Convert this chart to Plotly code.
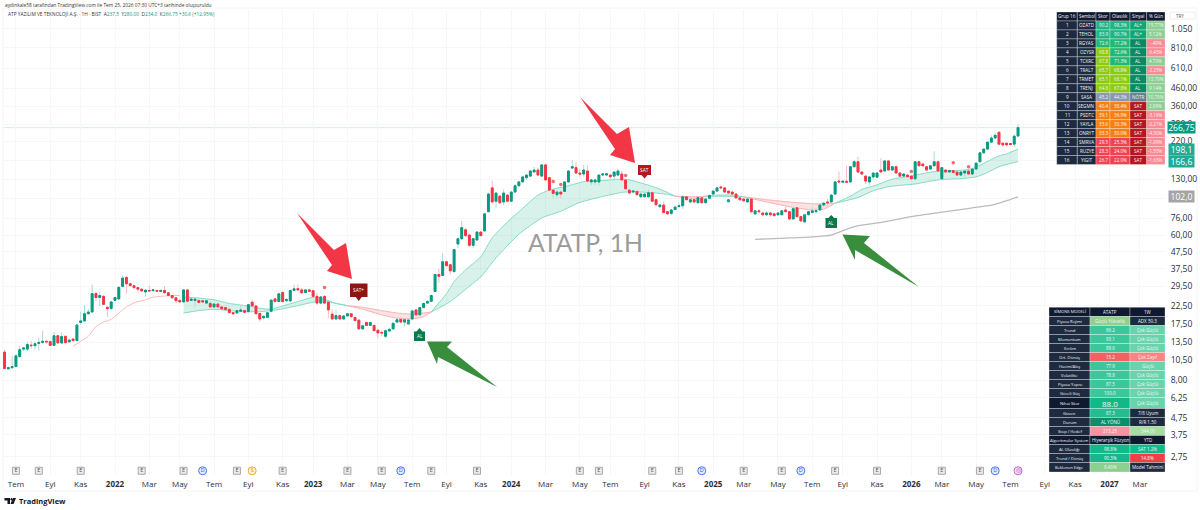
import math
import pandas as pd
import plotly.graph_objects as go

# ---------- price data (weekly bars) ----------
OPEN = [11.8,9.35,9.5,9.65,11.1,12.3,12.3,13,12.9,13.3,
13.5,13.7,13.65,12.95,14.8,13.4,14.7,13.6,14.15,13.85,
17.8,18.2,20.1,20.6,26.6,25.2,25.6,22,21.6,24.2,
24.7,29.4,33.3,30.5,29.7,28.9,28.3,27.2,27.8,27.7,
27.8,27.4,27.8,26.9,25.9,25.1,24.2,23.7,28,24.2,
24.2,24.2,24.1,23.3,23.2,22.1,23,22.1,21.9,21.4,
20.4,20.3,20.8,21,20.7,23.6,22.4,20.2,19,19.1,
20.8,24.7,23.8,27,24.1,24,27.8,28.5,28,27,
28,27.7,25.6,23.3,25.6,23.6,20,18.7,19.6,18.7,
19.5,20.1,19.1,18.4,16.3,17.8,17.1,17.1,16,15.5,
14.7,15.8,16.3,17.9,18.6,17.9,18.1,18.7,21.2,19.8,
21.9,23.3,23.9,27.4,34.7,34.2,41.4,39.7,36.1,53,
57,64.5,60,52,56,62.5,63.5,83,115.5,96,
103,95,104.5,96,109,119,125.5,133,136,144,
148,136,159,133,112,105,109,110,125.5,152,
153,142,140,146,125.5,125.5,125.5,138,138,138,
136,138,140,129,112,109,110,102,102,102,
108,98,89,91,83,81,85.5,89,90,102,
95,98,94,100.5,94,100,106,110.5,117,115.5,
110.5,109,106,100.5,99,95,99,80.5,84,81.5,
79.5,81.5,80.5,79.5,79.5,85,83,75,87.5,77.5,
72,79.5,82,83,85,91,95,95,106,127,
125,126.5,125.5,155,166,144,136,125.5,134.5,134,
148,146,168,148,155,142,136,138,136,131,
166,161,155,150,157,166,131,148,144,147,
144,138,142,146,140,150,166,188,198,218,
231,250,215,215,214,212,237.5]
HIGH = [12.2,9.6,11.2,11.4,12.8,12.7,13.6,13.8,13.7,14.4,
15.9,14,13.8,15.6,15,15.5,14.8,14.1,14.3,17.3,
20.7,22.7,21.5,30.1,27.3,27.2,26.2,22.3,24,25.4,
29.3,34.2,34,31,30,29.1,28.5,28.2,29.7,28.2,
28,28,29.5,27,26,25.3,24.4,28.2,28.2,25,
25.4,24.4,24.3,24.3,23.9,23.2,23.2,22.3,22,21.5,
20.5,21.1,22.7,21.2,23,24.4,22.6,20.4,19.6,20.6,
24.5,25,26.8,27.5,25,28,30.1,30.3,28.7,28.2,
28.3,28,26.9,25.8,25.9,24,21.4,21.4,19.8,19.7,
20.2,20.3,19.3,18.6,17.2,18,18,17.2,16.1,16,
16.1,16.4,17.8,19,18.9,18.7,18.5,21.2,21.4,22,
23.4,24.3,26.2,35,37.5,46.9,42,40,49.5,58,
73,66,60.5,57.5,63.5,63.5,81.5,108,127.5,109,
105,113,106,110,121,127,136,139,147,155,
153,160,160,134,113,111,110,127,148,170,
165,150,159,158,131,131,140,142,142,139,
145,150,146,131,114,111,111,107,107,112,
109,99,92,96,84,86,90,94,104.5,103,
99,99,102,102,101,105,111,117,119,116,
111,110,107,101,100,100,100,85,86,82,
84,82,81,82,85,89,84,87,88.5,78,
80,84,88,87,92,94,99,106,127,145,
129,157,156,170,178,146,138,136,143,144,
175,170,170,157,156,143,142,139,137,167,
168,162,157,158,192,168,155,150,149,148,
145,145,147,147,151,164,190,200,220,240,
250,255,216,216,215,238,280]
LOW = [9.3,9.3,9.4,9.6,10.9,12,12,12.4,12.2,12,
13.2,13.3,12.9,12.9,13.3,13.2,13.3,13.5,13.7,13.8,
17.2,18,19.8,20.5,24,22.4,22.7,19.2,21.3,24,
24.5,29,26.6,29.3,28.5,27,27.3,25.4,27.4,27.5,
27.3,27.2,26.7,25.7,24.9,23.3,23.5,23.5,23.8,24,
22.1,23.3,23.5,23.2,22,22,22,21.3,21,20.3,
19.8,20.1,20.6,20.4,20.6,22.2,20,18,18.6,19,
20.5,23.6,23.6,23.6,23.7,23.8,27.6,27.8,26.7,26.9,
27.3,25.4,22.7,23,23,18.9,18.5,18.5,18.5,18.5,
19.4,19.2,18.1,16.1,16.1,17,17,15.7,14.2,14.7,
14.3,15.7,16.2,17.7,17.7,16.8,17.7,18.4,19.6,19.6,
21.7,23,23.7,27.2,31,34,39,34.6,35.8,50,
56,58.5,51,50,55.5,59,63,82,94,87.5,
92,91,95,95,108,118,125,129.5,135,143,
137,135,128,111,100.5,101,100,109,124,150,
141,135,135,126,120,120,120,137,137,129,
128,137,127,113,106,108,104.5,101,101.5,101,
95,90,87,81,79,79.5,85,88,86,97,
93.5,93,93,93,93,99,105,110,114,108.5,
107,105,100,96,95,94,81,79.5,81,78,
78,77,78,78.5,79,82,74,74.5,76.5,72,
71,79,81,81,84,89.5,90,94,105,124,
124,124,124,154,142,138,122,120,130,133,
143,145,147,147,141,135,134,134,130,130,
156,156,147,149,156,145,130,143,143,141,
137,137,134,139,139,149,165,186,196,216,
229,210,205,206,208,203,234]
CLOSE = [9.4,9.5,9.65,11.2,12.2,12.5,13.1,12.9,13.25,13.5,
13.7,13.6,12.95,14.8,13.4,14.65,13.45,13.95,13.85,17.2,
18.2,20.1,20.6,26.6,25.2,25.9,22.9,21.6,23.7,25.2,
29,33,30.5,29.7,28.9,28.3,27.6,27.9,27.6,28,
27.5,27.8,26.9,25.9,25.1,24.1,23.7,28,23.9,24.65,
24.6,23.5,23.7,24.1,22.1,23,22.1,21.5,21.3,20.4,
20.1,21,21.2,20.5,22.8,22.4,20.1,18.7,19.4,20.4,
24.3,23.8,26.5,23.8,24.5,27.8,28.4,28,26.9,28,
27.5,25.6,23.3,25.4,23.3,21.2,18.7,19.6,18.7,19.5,
20.1,19.3,18.3,16.3,17,17.1,17.8,15.9,15.4,15.4,
15.9,16.2,17.6,18.5,17.9,18.5,18.4,20.9,19.8,21.9,
23.2,23.8,25.9,34.7,33.8,41.4,39.2,36.5,49,57,
66.5,59.5,52,57,62.5,59.5,80.5,106,95,107.5,
94,107.5,96,109,119,125.5,134.5,138,146,148,
138,159,129,112,107,109,106,125.5,146,155,
142,140,148,127,129,129,138,140,140.5,135,
144,146,129,114,107.5,110.5,105,106,106,108,
96,91.5,91,82,80.5,85,88.5,90,102,98,
98,95,101,94,99,104,110.5,115.5,115.5,109,
107.5,106,100.5,98,96.5,99,83,84,83,79.5,
81.5,79.5,78.5,81.5,84,83,75,86.5,77.5,73,
79.5,83,84,84,91,93.5,94,104.5,125.5,125.5,
126.5,125,155,166,144,140,127,134.5,142,142,
144,168,148,155,142,136,140,135,131,166,
157,157,148,157,166,146,153,144,147,143,
138,144,146,140,150,163,188,198,218,231,
240,212,210,210,211,237,266.75]
FIRST_WEEK = "2021-06-14"

# ---------- indicator lines (week number, price) ----------
PINK_WK = [18,20,22,24,26,28,30,32,34,37,39,42,44,46]
PINK = [12.8,13.7,14.7,16.8,17.9,18.6,20.3,22.1,23.4,24.4,25.3,25.7,25.9,25.9]

M1_UP_WK = [47,51,55,59,62,64,67,70,73,77,81,84,87,90]
M1_UP = [25.4,25,24.4,23.2,22.7,22.4,21.7,21.4,22.4,23.8,25.3,24.6,23.2,22.5]
M1_LO_WK = [47,51,55,59,62,67,70,73,77,81,84,87,90]
M1_LO = [20.3,21,21.4,21,20.7,20.7,21,21.5,22.5,23.6,24,23.2,22.5]

R1_UP_WK = [90,94,99,103,107,112]
R1_UP = [22.5,22,21,20.3,20,20.6]
R1_LO_WK = [90,94,99,103,107,110,112]
R1_LO = [22.5,21.4,19.8,18.9,18.7,19.3,20.6]

M2_UP_WK = [112,116,118,121,125,128,132,136,140,143,148,152,157,162,164,170,174,176]
M2_UP = [20.6,26.6,31.4,37,44.3,57.6,72,87,104.5,112,119,126,128,130.5,129,118,108.5,103]
M2_LO_WK = [112,117,121,125,129,135,141,146,151,157,162,165,170,174,176]
M2_LO = [20.6,23.8,28.2,33.5,43.7,60.7,76,83.5,94.5,102.5,108.5,109.5,108,105.5,103]

R2_UP_WK = [176,181,184]
R2_UP = [103,102,103]
R2_LO_WK = [176,179,181,183,184]
R2_LO = [103,100.5,99.5,100,103]

M3_UP_WK = [184,187,191,194]
M3_UP = [103,104.5,104.5,102]
M3_LO_WK = [184,187,191,194]
M3_LO = [103,102.8,102.5,102]

R3_UP_WK = [194,200,207,213,218]
R3_UP = [102,98,94.5,92.5,93.4]
R3_LO_WK = [194,200,207,212,215,218]
R3_LO = [102,95,88,85,86,93.4]

M4_UP_WK = [218,222,225,229,233,237,244,252,255,258,261,263,266]
M4_UP = [93.4,103,113,120.5,130.5,135,144.8,148,153.5,167,180,185,198.1]
M4_LO_WK = [218,224,228,232,239,245,252,255,258,261,266]
M4_LO = [93.4,101,111,117.5,122,129,132,134.5,143,155,166.6]

GRAY_WK = [197,205,212,217,223,230,238,247,254,260,266]
GRAY = [56.5,57.5,58.5,60,67.5,71.5,77.5,83,87.5,92,102]

DOT_RED_WK = [84,144,146,163,238,249,253]
DOT_RED = [28.9,126,121,137,145,164,155]
DOT_GREEN_WK = [106,190]
DOT_GREEN = [17.7,96.5]

# ---------- axis ticks ----------
X_TICK_WK = [3,12,20,29,38,46,55,64,73,81,90,98,107,116,125,133,142,151,159,168,177,186,194,203,212,220,229,238,246,255,264,273,281,290,298]
X_TICK_TX = ["Tem","Eyl","Kas","<b>2022</b>","Mar","May","Tem","Eyl","Kas","<b>2023</b>","Mar","May","Tem","Eyl","Kas","<b>2024</b>","Mar","May","Tem","Eyl","Kas","<b>2025</b>","Mar","May","Tem","Eyl","Kas","<b>2026</b>","Mar","May","Tem","Eyl","Kas","<b>2027</b>","Mar"]
Y_TICK_V = [1050,810,610,460,360,280,220,170,130,100,76,60,47.5,37.5,29.5,22.5,17.5,13.5,10.5,8,6.25,4.75,3.75,2.75]
Y_TICK_TX = ["1.050","810,0","610,0","460,00","360,00","280,0","220,0","","130,00","","76,00","60,00","47,50","37,50","29,50","22,50","17,50","13,50","10,50","8,00","6,25","4,75","3,75","2,75"]

# ---------- time-axis event icons ----------
E_WK = [3,9,20,36,47,61,73,90,99,112,124,151,156,170,177,194,204,218,229,246,256]
DIV_WK = [52,104,183,209,260]
SPLIT_WK = [65]
LAST_WK = [266]

# ---------- tables ----------
T1_HEAD = ["Grup 16","Sembol","Skor","Olasılık","Sinyal","% Gün"]
T1_RANK = [str(i) for i in range(1,17)]
T1_SYM = ["OZATD","TEHOL","RGYAS","OZYSR","TCKRC","TRALT","TRMET","TRENJ","SASA","SEGMN","PSDTC","YAYLA","ONRYT","SMRVA","RUZYE","YIGIT"]
T1_SCORE = ["90.2","83.9","72.6","68.8","67.8","65.7","65.1","64.8","45.2","40.4","39.1","33.6","33.3","29.5","28.3","26.7"]
T1_PROB = ["98.3%","90.7%","77.2%","72.6%","71.3%","68.8%","68.1%","67.8%","44.3%","38.4%","36.9%","30.3%","30.0%","25.3%","24.0%","22.0%"]
T1_SIG = ["AL+","AL+","AL","AL","AL","AL","AL","AL","NÖTR","SAT","SAT","SAT","SAT","SAT","SAT","SAT"]
T1_PCT = ["15.77%","5.12%","-.49%","-6.43%","4.70%","-2.25%","13.70%","9.14%","10.70%","2.89%","-3.18%","-2.21%","-4.30%","-1.89%","-1.55%","-1.63%"]
TEAL, LIME, GRY, ORG, RD = "#1fb585", "#8ccb10", "#8d97ab", "#f77f11", "#f0434f"
GRN2 = "#22b874"
T1_SCORE_C = [TEAL,TEAL,GRN2,LIME,LIME,LIME,LIME,LIME,GRY,ORG,ORG,ORG,ORG,RD,RD,RD]
T1_PROB_C = [TEAL,TEAL,GRN2,GRN2,GRN2,LIME,LIME,LIME,GRY,ORG,ORG,ORG,ORG,RD,RD,RD]
T1_SIG_C = ["#0fa875","#0fa875"]+["#0a8a62"]*6+["#6c7a94"]+["#b5161e"]*7
PG, PK = "#8ccf92", "#f98a93"
T1_PCT_C = [PG,PG,PK,PK,PG,PK,PG,PG,PG,PG,PK,PK,PK,PK,PK,PK]

T2_A = ["SİMONS MODELİ","Piyasa Rejimi","Trend","Momentum","Kırılım","Ort. Dönüş","Hacim/Akış","Volatilite","Piyasa Yapısı","Göreli Güç","Nihai Skor","Güven","Durum","Stop / Hedef","Algoritmalar System","AL Olasılığı","Trend / Dönüş","Beklenen Edge"]
T2_B = ["ATATP","Güçlü Yükseliş","86.2","93.1","89.6","15.2","77.9","78.8","87.5","100.0","88.0","87.3","AL YÖNÜ","215.25","Hiyerarşik Füzyon","98.8%","90.3%","9.43%"]
T2_C = ["1W","ADX 50.3","Çok Güçlü","Çok Güçlü","Çok Güçlü","Çok Zayıf","Güçlü","Çok Güçlü","Çok Güçlü","Çok Güçlü","Çok Güçlü","7/8 Uyum","R/R 1.50","344.00","YTD","SAT 1.2%","14.8%","Model Tahmini"]
NAVY, DARK = "#1e2a40", "#0f1a30"
V, W_ = "#3cc79b", "#69d3ac"
T2_A_C = [DARK]+[NAVY]*9+[DARK]+[NAVY]*3+[DARK]+[NAVY]*3
T2_B_C = [DARK,"#8fd08e",V,V,V,"#f26262",V,V,V,V,"#12b886","#25bd8f","#0c8f68","#f992a0",DARK,"#13b98a","#13b98a","#8cd090"]
T2_C_C = [DARK,NAVY,W_,W_,W_,"#f88484",W_,W_,W_,W_,W_,NAVY,NAVY,"#a6dea0",DARK,"#13b98a","#f23f46",NAVY]

# ---------- layout geometry ----------
W, H = 1200, 510
ML, MR, MT, MB = 3, 35, 10, 35
FONT = "Open Sans, Liberation Sans, sans-serif"
def px(x): return (x - ML) / (W - ML - MR)
def py(y): return 1 - (y - MT) / (H - MT - MB)

WEEKS = pd.date_range(FIRST_WEEK, periods=320, freq="7D")
def wk(idx): return [WEEKS[i] for i in idx]
DATES = WEEKS[:len(CLOSE)]

fig = go.Figure()
shapes, anns = [], []

# ribbons
MINT_LINE, MINT_FILL = "#86dcc3", "rgba(38,185,145,0.18)"
ROSE_LINE, ROSE_FILL = "#f9b3b3", "rgba(242,54,69,0.15)"
def ribbon(uw, u, lw, l, line, fill):
    fig.add_trace(go.Scatter(x=wk(uw), y=u, mode="lines", line=dict(color=line, width=1, shape="spline", smoothing=0.5), hoverinfo="skip"))
    fig.add_trace(go.Scatter(x=wk(lw), y=l, mode="lines", line=dict(color=line, width=1, shape="spline", smoothing=0.5), fill="tonexty", fillcolor=fill, hoverinfo="skip"))

ribbon(M1_UP_WK, M1_UP, M1_LO_WK, M1_LO, MINT_LINE, MINT_FILL)
ribbon(R1_UP_WK, R1_UP, R1_LO_WK, R1_LO, ROSE_LINE, ROSE_FILL)
ribbon(M2_UP_WK, M2_UP, M2_LO_WK, M2_LO, MINT_LINE, MINT_FILL)
ribbon(R2_UP_WK, R2_UP, R2_LO_WK, R2_LO, ROSE_LINE, ROSE_FILL)
ribbon(M3_UP_WK, M3_UP, M3_LO_WK, M3_LO, MINT_LINE, MINT_FILL)
ribbon(R3_UP_WK, R3_UP, R3_LO_WK, R3_LO, ROSE_LINE, ROSE_FILL)
ribbon(M4_UP_WK, M4_UP, M4_LO_WK, M4_LO, MINT_LINE, MINT_FILL)
fig.add_trace(go.Scatter(x=wk(PINK_WK), y=PINK, mode="lines", line=dict(color="#f9bcbc", width=1, shape="spline", smoothing=0.5), hoverinfo="skip"))
fig.add_trace(go.Scatter(x=wk(GRAY_WK), y=GRAY, mode="lines", line=dict(color="#bdb9c0", width=1.3, shape="spline", smoothing=0.5), hoverinfo="skip"))

# event icons
def icons(weeks, letter, fill, edge, tcol, sym, size):
    fig.add_trace(go.Scatter(x=wk(weeks), y=[2.27]*len(weeks), mode="markers+text", text=[letter]*len(weeks),
        textposition="middle center", textfont=dict(size=5.5, color=tcol, family=FONT),
        marker=dict(symbol=sym, size=size, color=fill, line=dict(color=edge, width=1)), hoverinfo="skip", cliponaxis=False))
icons(E_WK, "E", "#ececec", "#a8a8a8", "#555555", "square", 7)
icons(DIV_WK, "D", "#e4ebff", "#4a78f5", "#2962ff", "circle", 8)
icons(SPLIT_WK, "S", "#fff1dc", "#f5a623", "#e08a00", "circle", 8)
icons(LAST_WK, "◎", "#f6e3f8", "#c565d5", "#a73ebb", "circle", 8)

# candles on an overlay axis pair, so that they sit above the ribbons
GREEN, RED = "#089981", "#f23645"
GREEN_W, RED_W = "#a9dcd2", "#f9bcc1"
fig.add_trace(go.Candlestick(x=DATES, open=OPEN, high=HIGH, low=LOW, close=CLOSE, xaxis="x2", yaxis="y2", whiskerwidth=0,
    increasing=dict(line=dict(color=GREEN_W, width=1), fillcolor=GREEN_W),
    decreasing=dict(line=dict(color=RED_W, width=1), fillcolor=RED_W), hoverinfo="skip"))
BODY_HI = [max(o, c) for o, c in zip(OPEN, CLOSE)]
BODY_LO = [min(o, c) for o, c in zip(OPEN, CLOSE)]
fig.add_trace(go.Candlestick(x=DATES, open=OPEN, high=BODY_HI, low=BODY_LO, close=CLOSE, xaxis="x2", yaxis="y2", whiskerwidth=0,
    increasing=dict(line=dict(color=GREEN, width=1), fillcolor=GREEN),
    decreasing=dict(line=dict(color=RED, width=1), fillcolor=RED), hoverinfo="skip"))
fig.add_trace(go.Scatter(x=wk(DOT_RED_WK), y=DOT_RED, mode="markers", xaxis="x2", yaxis="y2", marker=dict(size=3.5, color="#ef6a74"), hoverinfo="skip"))
fig.add_trace(go.Scatter(x=wk(DOT_GREEN_WK), y=DOT_GREEN, mode="markers", xaxis="x2", yaxis="y2", marker=dict(size=3.5, color="#2f9e84"), hoverinfo="skip"))

# last price line
LAST_PRICE = CLOSE[-1]
shapes.append(dict(type="line", xref="paper", x0=0, x1=1, yref="y", y0=LAST_PRICE, y1=LAST_PRICE, line=dict(color="#d3eee8", width=1), layer="below"))

# pane frame
shapes.append(dict(type="rect", xref="paper", yref="paper", x0=px(3), x1=px(1197), y0=py(8), y1=py(491), line=dict(color="#f4f4f4", width=1), layer="below"))

def poly(points, color, layer="above"):
    d = "M" + " L".join(f"{px(a):.5f},{py(b):.5f}" for a, b in points) + " Z"
    shapes.append(dict(type="path", xref="paper", yref="paper", path=d, fillcolor=color, line=dict(width=0), layer=layer))

# hand-drawn arrows
def red_arrow(dx, dy):
    pts = [(297,213),(334,250),(346,243),(352,279),(327,271),(332,265)]
    poly([(a+dx, b+dy) for a, b in pts], "#f23645")
red_arrow(0, 0)
red_arrow(283, -116)
poly([(427,341.5),(452,341.5),(447,347),(497,387),(438,357),(437,364)], "#388e3c")
poly([(842.5,234.5),(870,236),(864,243),(919,287),(855,250),(855,260)], "#388e3c")

# signal labels
def label(x0, x1, y0, y1, tip, color, text, size=4.8):
    mid = (x0+x1)/2
    if tip > y1:
        pts = [(x0,y0),(x1,y0),(x1,y1),(mid+3,y1),(mid,tip),(mid-3,y1),(x0,y1)]
    else:
        pts = [(x0,y1),(x1,y1),(x1,y0),(mid+3,y0),(mid,tip),(mid-3,y0),(x0,y0)]
    poly(pts, color)
    anns.append(dict(xref="paper", yref="paper", x=px(mid), y=py((y0+y1)/2), text=text, showarrow=False, font=dict(size=size, color="white", family=FONT), xanchor="center", yanchor="middle"))
label(350, 367.5, 283.5, 297, 301, "#8f1515", "SAT+")
label(638, 651, 165, 175, 178.5, "#b2181e", "SAT")
label(414, 425, 331.5, 341, 328, "#0a7a4c", "AL")
label(825.5, 837, 218, 228, 215, "#0a7a4c", "AL")

# watermark
anns.append(dict(xref="paper", yref="paper", x=px(585.5), y=py(242), text="ATATP, 1H", showarrow=False,
    font=dict(size=24.7, color="#9b9b9b", family="Lato, Open Sans, sans-serif"), xanchor="center", yanchor="middle"))

# header texts
anns.append(dict(xref="paper", yref="paper", x=px(3), y=py(5), xanchor="left", yanchor="middle", showarrow=False,
    text="aydinkale58 tarafından TradingView.com ile Tem 25, 2026 07:30 UTC+3 tarihinde oluşturuldu",
    font=dict(size=4.8, color="#333333", family=FONT)))
T = "#089981"
anns.append(dict(xref="paper", yref="paper", x=px(6), y=py(14), xanchor="left", yanchor="middle", showarrow=False,
    text=f"ATP YAZILIM VE TEKNOLOJİ A.Ş. · 1H · BIST  A<span style='color:{T}'>237,5</span>  Y<span style='color:{T}'>280,00</span>  D<span style='color:{T}'>234,0</span>  K<span style='color:{T}'>266,75 +30,6 (+12,95%)</span>",
    font=dict(size=4.8, color="#333333", family=FONT)))

# price badges
def badge(price, text, color, w=27, h=11, size=8.5):
    anns.append(dict(xref="paper", yref="y", x=px(1181), y=math.log10(price), text=text, showarrow=False, xanchor="center", yanchor="middle",
        bgcolor=color, width=w, height=h, borderpad=0, font=dict(size=size, color="white", family=FONT)))
badge(LAST_PRICE, "266,75", "#089981")
badge(M4_UP[-1], "198,1", "#22ab94", w=25)
badge(M4_LO[-1], "166,6", "#22ab94", w=25)
badge(GRAY[-1], "102,0", "#a5a5a5", w=25)

# currency box
shapes.append(dict(type="rect", xref="paper", yref="paper", x0=px(1170), x1=px(1195), y0=py(12), y1=py(19), line=dict(color="#eeeeee", width=1), fillcolor="white"))
anns.append(dict(xref="paper", yref="paper", x=px(1174), y=py(15.5), text="TRY", showarrow=False, xanchor="left", yanchor="middle", font=dict(size=4.5, color="#555555", family=FONT)))

# tables
def cell(x0, x1, y0, y1, fill, text, size=4.6, color="#f4f6f8", bold=False):
    shapes.append(dict(type="rect", xref="paper", yref="paper", x0=px(x0), x1=px(x1), y0=py(y0), y1=py(y1), fillcolor=fill, line=dict(color="#ffffff", width=0.3)))
    anns.append(dict(xref="paper", yref="paper", x=px((x0+x1)/2), y=py((y0+y1)/2), text=f"<b>{text}</b>" if bold else text, showarrow=False,
        xanchor="center", yanchor="middle", font=dict(size=size, color=color, family=FONT)))

T1_X = [1056.7,1077.3,1096,1110,1130,1146.7,1165]
T1_TOP, T1_ROW = 12, 8.97
for c, head in enumerate(T1_HEAD):
    cell(T1_X[c], T1_X[c+1], T1_TOP, T1_TOP+T1_ROW, DARK, head)
for r in range(16):
    y0, y1 = T1_TOP+T1_ROW*(r+1), T1_TOP+T1_ROW*(r+2)
    vals = [T1_RANK[r], T1_SYM[r], T1_SCORE[r], T1_PROB[r], T1_SIG[r], T1_PCT[r]]
    fills = [NAVY, NAVY, T1_SCORE_C[r], T1_PROB_C[r], T1_SIG_C[r], T1_PCT_C[r]]
    for c in range(6):
        cell(T1_X[c], T1_X[c+1], y0, y1, fills[c], vals[c])

T2_X = [1049,1090,1130,1165]
T2_EDGES = [307.3,316.5,325.5,334.5,343.5,352.5,361.5,370.5,379.5,388.5,397.5,408.5,417.5,426.5,435.5,444.5,453.5,462.5,472]
for r in range(18):
    y0, y1 = T2_EDGES[r], T2_EDGES[r+1]
    big = r == 10
    cell(T2_X[0], T2_X[1], y0, y1, T2_A_C[r], T2_A[r], size=4.1)
    cell(T2_X[1], T2_X[2], y0, y1, T2_B_C[r], T2_B[r], size=8 if big else 4.5)
    cell(T2_X[2], T2_X[3], y0, y1, T2_C_C[r], T2_C[r], size=4.5)

# TradingView logo
poly([(4.5,498),(10,498),(10,504),(7.5,504),(7.5,500.5),(4.5,500.5)], "#131722")
shapes.append(dict(type="circle", xref="paper", yref="paper", x0=px(10.5), x1=px(12.5), y0=py(498), y1=py(500.5), fillcolor="#131722", line=dict(width=0)))
poly([(13,498),(16,498),(13.5,504),(10.5,504)], "#131722")
anns.append(dict(xref="paper", yref="paper", x=px(17), y=py(501.2), text="<b>TradingView</b>", showarrow=False, xanchor="left", yanchor="middle",
    font=dict(size=7.5, color="#131722", family=FONT)))

X_RANGE = ["2021-06-11 06:00", "2027-04-16"]
Y_RANGE = [math.log10(2.14), math.log10(1367)]
fig.update_layout(
    width=W, height=H, autosize=False, showlegend=False,
    margin=dict(l=ML, r=MR, t=MT, b=MB),
    paper_bgcolor="white", plot_bgcolor="white",
    font=dict(family=FONT, color="#131722"),
    shapes=shapes, annotations=anns,
    xaxis=dict(type="date", range=X_RANGE, tickmode="array", tickvals=wk(X_TICK_WK), ticktext=X_TICK_TX,
               showgrid=True, gridcolor="#f7f7f7", gridwidth=1, zeroline=False, showline=False,
               ticks="outside", ticklen=1, tickcolor="white", tickfont=dict(size=8, color="#2a2e39"), rangeslider=dict(visible=False)),
    yaxis=dict(type="log", range=Y_RANGE, side="right", tickmode="array", tickvals=Y_TICK_V, ticktext=Y_TICK_TX,
               showgrid=True, gridcolor="#f7f7f7", gridwidth=1, zeroline=False, showline=False,
               ticks="outside", ticklen=3, tickcolor="white", tickfont=dict(size=8.5, color="#2a2e39")),
    xaxis2=dict(type="date", range=X_RANGE, overlaying="x", visible=False, rangeslider=dict(visible=False)),
    yaxis2=dict(type="log", range=Y_RANGE, overlaying="y", side="right", visible=False),
)

fig.write_html("out.html", config=dict(displayModeBar=False), post_script="document.body.style.margin='0';document.body.style.overflow='hidden';")
